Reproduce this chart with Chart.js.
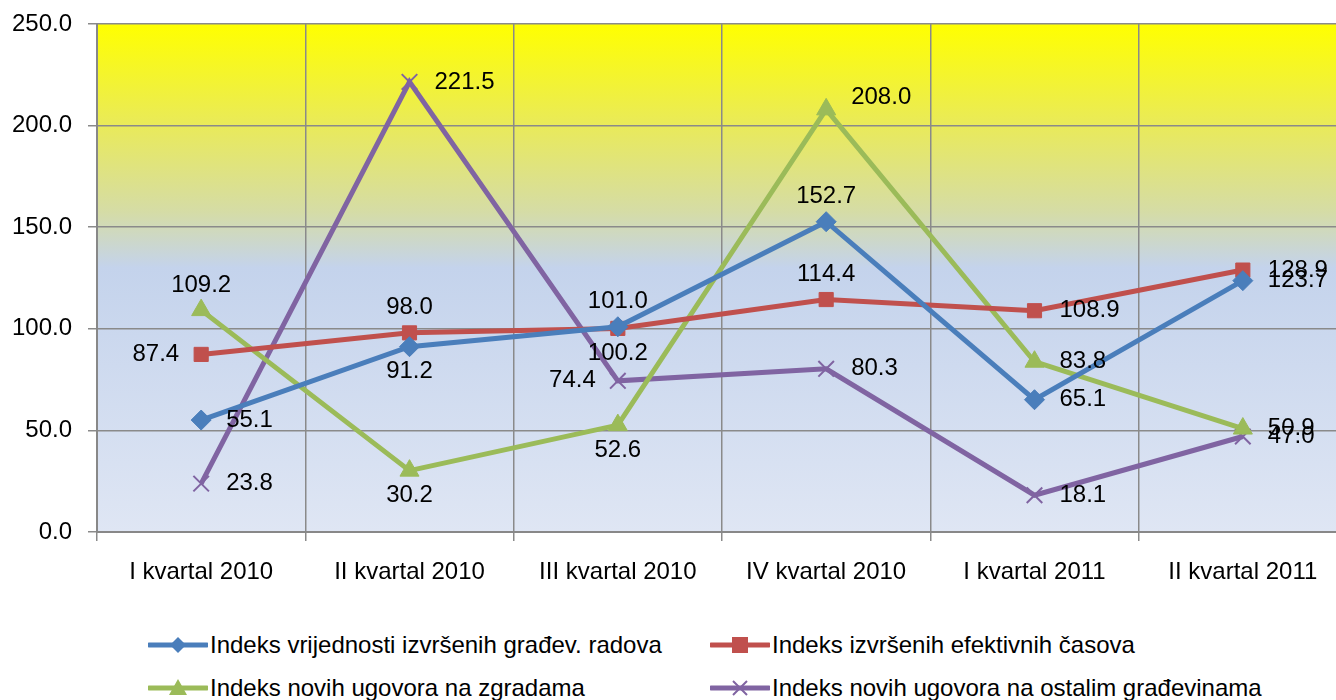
<!DOCTYPE html>
<html>
<head>
<meta charset="utf-8">
<script src="https://cdn.jsdelivr.net/npm/chart.js@4.4.0/dist/chart.umd.min.js"></script>
<style>
  html, body { margin: 0; padding: 0; background: #fff; overflow: hidden; }
  #wrap { position: relative; width: 1348px; height: 700px; font-family: "Liberation Sans", Arial, sans-serif; }
  #plot { position: absolute; left: 0; top: 0; width: 1348px; height: 600px; }
  .leg { position: absolute; display: flex; align-items: center; font-size: 24px; color: #000; white-space: nowrap; line-height: 26px; }
  .leg svg { margin-right: 2px; }
</style>
</head>
<body>
<div id="wrap">
  <div id="plot"><canvas id="chartIndeksi"></canvas></div>
  <div id="legend"></div>
</div>
<script>
const chartIndeksi = document.getElementById("chartIndeksi");

// Kategorije (kvartali)
const kvartali = ["I kvartal 2010", "II kvartal 2010", "III kvartal 2010", "IV kvartal 2010", "I kvartal 2011", "II kvartal 2011"];

// Serije
const vrijednostRadova = [55.1, 91.2, 101.0, 152.7, 65.1, 123.7];
const efektivniCasovi = [87.4, 98.0, 100.2, 114.4, 108.9, 128.9];
const ugovoriZgrade = [109.2, 30.2, 52.6, 208.0, 83.8, 50.9];
const ugovoriOstalo = [23.8, 221.5, 74.4, 80.3, 18.1, 47.0];

const nazivi = [
	"Indeks vrijednosti izvršenih građev. radova",
	"Indeks izvršenih efektivnih časova",
	"Indeks novih ugovora na zgradama",
	"Indeks novih ugovora na ostalim građevinama"
];

// Y osa
const yMin = 0;
const yMax = 250;
const yKorak = 50;

// položaj oznaka vrijednosti
const pozicije = [
	['right', 'below', 'above', 'above', 'right', 'right'],
	['left', 'above', 'below', 'above', 'right', 'right'],
	['above', 'below', 'below', 'rightUp', 'right', 'right'],
	['right', 'right', 'left', 'right', 'right', 'right']
];

const boje = ['#4a7ebb', '#c0504d', '#9bbb59', '#8064a2'];

// pozadina - gradijent
const pozadina = {
	id: 'pozadina',
	beforeDraw(chart) {
		const {ctx, chartArea: a} = chart;
		const g = ctx.createLinearGradient(0, a.top, 0, a.bottom);
		g.addColorStop(0, '#ffff00');
		g.addColorStop(0.2, '#e9ea5a');
		g.addColorStop(0.37, '#d5dca6');
		g.addColorStop(0.48, '#c4d3ec');
		g.addColorStop(1, '#dfe6f4');
		ctx.save();
		ctx.fillStyle = g;
		ctx.fillRect(a.left, a.top, a.right - a.left, a.bottom - a.top);
		ctx.restore();
	}
};

// oznake vrijednosti
const oznake = {
	id: 'oznake',
	afterDatasetsDraw(chart) {
		const ctx = chart.ctx;
		ctx.save();
		ctx.font = '24px "Liberation Sans", Arial, sans-serif';
		ctx.fillStyle = '#000';
		chart.data.datasets.forEach(function(ds, di) {
			const meta = chart.getDatasetMeta(di);
			meta.data.forEach(function(pt, i) {
				const txt = ds.data[i].toFixed(1);
				const p = pozicije[di][i];
				let x = pt.x, y = pt.y;
				if (p === 'right') { ctx.textAlign = 'left'; x += 25; }
				else if (p === 'rightUp') { ctx.textAlign = 'left'; x += 25; y -= 12; }
				else if (p === 'left') { ctx.textAlign = 'right'; x -= 22; }
				else if (p === 'above') { ctx.textAlign = 'center'; y -= 25; }
				else { ctx.textAlign = 'center'; y += 25; }
				ctx.textBaseline = 'middle';
				ctx.fillText(txt, x, y);
			});
		});
		ctx.restore();
	}
};

const  indeksiChart = new Chart(chartIndeksi, {
	type: "line",
	data: {
		labels: kvartali,
		datasets: [{
			label: nazivi[0],
			data: vrijednostRadova,
			borderColor: boje[0],
			backgroundColor: boje[0],
			pointStyle: 'rectRot',
			pointRadius: 10,
			borderWidth: 5,
			pointBorderWidth: 1
		}, {
			label: nazivi[1],
			data: efektivniCasovi,
			borderColor: boje[1],
			backgroundColor: boje[1],
			pointStyle: 'rect',
			pointRadius: 10,
			borderWidth: 5,
			pointBorderWidth: 1
		}, {
			label: nazivi[2],
			data: ugovoriZgrade,
			borderColor: boje[2],
			backgroundColor: boje[2],
			pointStyle: 'triangle',
			pointRadius: 11,
			borderWidth: 5,
			pointBorderWidth: 1
		}, {
			label: nazivi[3],
			data: ugovoriOstalo,
			borderColor: boje[3],
			backgroundColor: boje[3],
			pointStyle: 'crossRot',
			pointRadius: 11,
			borderWidth: 5,
			pointBorderWidth: 2
		}]
	},
	options: {
		responsive: true,
		maintainAspectRatio: false,
		devicePixelRatio: 1,
		animation: false,
		layout: {
			autoPadding: false,
			padding: { top: 24, right: 1, left: 0, bottom: 0 }
		},
		plugins: {
			legend: { display: false },
			tooltip: { enabled: false }
		},
		scales: {
			y: {
				min: yMin,
				max: yMax,
				afterFit: function(scale) {
					scale.width = 97;
					scale.paddingTop = 0;
					scale.paddingBottom = 0;
				},
				border: { color: '#888', width: 2 },
				grid: { color: '#8a8a8a', lineWidth: 1.5, tickLength: 9 },
				ticks: {
					stepSize: yKorak,
					padding: 16,
					color: '#000',
					font: { family: '"Liberation Sans", Arial, sans-serif', size: 24 },
					callback: function(v) { return v.toFixed(1); }
				}
			},
			x: {
				offset: true,
				afterFit: function(scale) {
					scale.height = 68;
					scale.paddingLeft = 0;
					scale.paddingRight = 0;
				},
				border: { color: '#888', width: 2 },
				grid: { offset: true, color: '#8a8a8a', lineWidth: 1.5, tickLength: 9 },
				ticks: {
					padding: 17,
					color: '#000',
					maxRotation: 0,
					font: { family: '"Liberation Sans", Arial, sans-serif', size: 24 }
				}
			}
		}
	},
	plugins: [pozadina, oznake]
});

// legenda
const legPolozaj = [[148, 632], [710, 632], [148, 675], [710, 675]];
const markeri = [
	'<polygon points="30,3 38,11 30,19 22,11" fill="' + boje[0] + '"/>',
	'<rect x="22" y="3" width="16" height="16" fill="' + boje[1] + '"/>',
	'<polygon points="30,2 39,18 21,18" fill="' + boje[2] + '"/>',
	'<path d="M23 4 L37 18 M37 4 L23 18" stroke="' + boje[3] + '" stroke-width="2"/>'
];
const legenda = document.getElementById("legend");
nazivi.forEach(function(n, i) {
	const d = document.createElement('div');
	d.className = 'leg';
	d.style.left = legPolozaj[i][0] + 'px';
	d.style.top = legPolozaj[i][1] + 'px';
	d.innerHTML = '<svg width="60" height="22"><line x1="1" y1="11" x2="59" y2="11" stroke="' + boje[i] +
		'" stroke-width="5" stroke-linecap="round"/>' + markeri[i] + '</svg><span>' + n + '</span>';
	legenda.appendChild(d);
});
</script>
</body>
</html>
